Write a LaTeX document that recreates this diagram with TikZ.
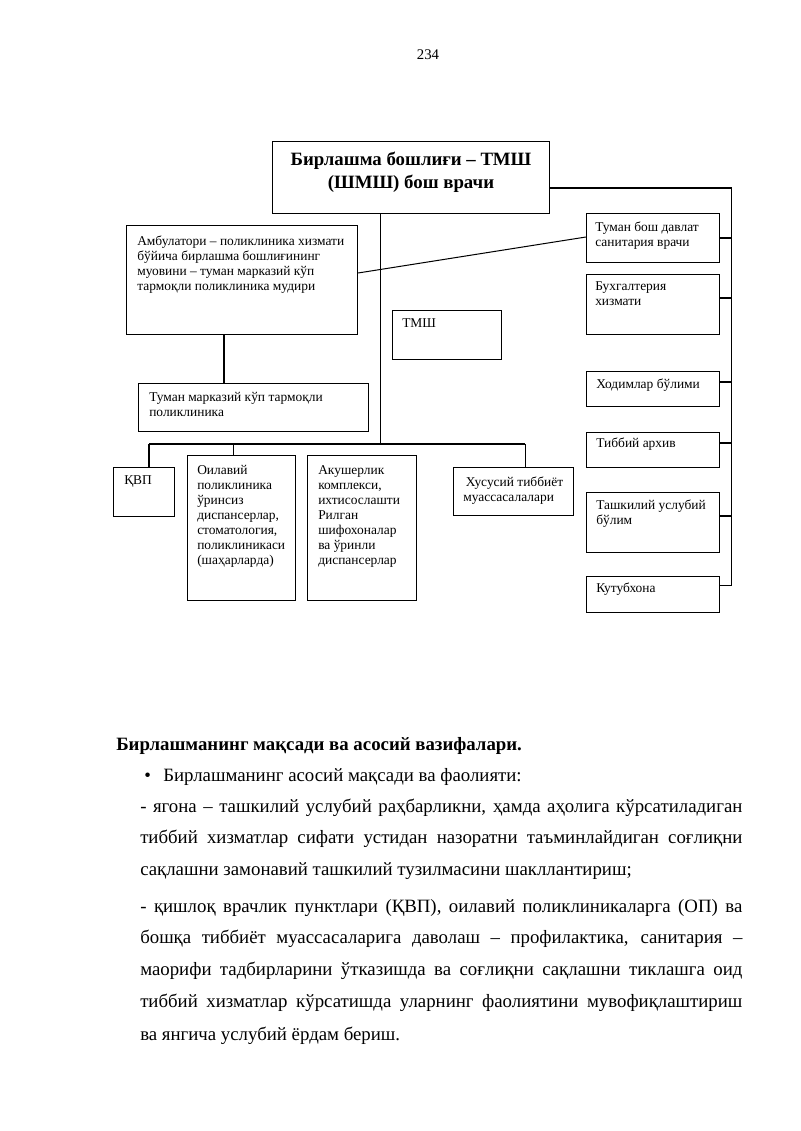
\documentclass[tikz,border=0pt]{standalone}
\usepackage{fontspec}
\setmainfont{Liberation Serif}
\tikzset{
  bx/.style={draw, line width=0.8pt, anchor=north west, inner sep=0pt, rectangle},
  bt/.style={anchor=north west, inner sep=0pt, align=left, font=\fontsize{10}{11.2}\selectfont},
  ln/.style={line width=0.75pt},
  body/.style={anchor=base west, inner sep=0pt, font=\fontsize{14}{16}\selectfont},
  bodyb/.style={anchor=base west, inner sep=0pt, font=\bfseries\fontsize{14}{16}\selectfont},
}
\newcommand\orgbox[8]{%
  \node[bx, minimum width={(#4-#2)*0.744pt}, minimum height={(#5-#3)*0.744pt}] (#1) at (#2,#3) {};
  \node[bt] (#1t) at (#6,#7-10.54) {\strut#8};
}
\newcommand\jline[1]{\makebox[448pt][s]{#1}}
\begin{document}
\begin{tikzpicture}[x=0.744pt, y=-0.744pt]
\path[use as bounding box, fill=white] (0,0) rectangle (800,1131);

% page number
\node[anchor=base, inner sep=0pt, font=\fontsize{11}{13}\selectfont] (pg) at (428,60) {234};

% top box
\node[bx, minimum width={(549-272)*0.744pt}, minimum height={(213-141)*0.744pt}] (top) at (272,141) {};
\node[inner sep=0pt, align=center, font=\bfseries\fontsize{14}{17}\selectfont] (topt) at (411,172) {Бирлашма бошлиғи – ТМШ\\(ШМШ) бош врачи};

% left / middle boxes
\orgbox{amb}{126}{225}{357}{334}{137}{245}{Амбулатори – поликлиника хизмати\\бўйича бирлашма бошлиғининг\\муовини – туман марказий кўп\\тармоқли поликлиника мудири}
\orgbox{tm}{138}{383}{368}{431}{149}{401}{Туман марказий кўп тармоқли\\поликлиника}
\orgbox{tmsh}{392}{310}{501}{359}{402}{327}{ТМШ}
\orgbox{kvp}{113}{467}{174}{516}{124}{484}{ҚВП}
\orgbox{oil}{187}{455}{295}{600}{197}{474}{Оилавий\\поликлиника\\ўринсиз\\диспансерлар,\\стоматология,\\поликлиникаси\\(шаҳарларда)}
\orgbox{aku}{307}{455}{416}{600}{318}{474}{Акушерлик\\комплекси,\\ихтисослашти\\Рилган\\шифохоналар\\ва ўринли\\диспансерлар}
\orgbox{xus}{453}{467}{573}{515}{463}{486}{\hspace{2pt}Хусусий тиббиёт\\муассасалалари}

% right boxes
\orgbox{tbd}{586}{213}{719}{262}{595}{231}{Туман бош давлат\\санитария врачи}
\orgbox{bux}{586}{274}{719}{334}{595}{290}{Бухгалтерия\\хизмати}
\orgbox{hod}{586}{371}{719}{406}{596}{388}{Ходимлар бўлими}
\orgbox{arx}{586}{432}{719}{467}{596}{447}{Тиббий архив}
\orgbox{tash}{586}{492}{719}{552}{596}{509}{Ташкилий услубий\\бўлим}
\orgbox{kut}{586}{576}{719}{612}{596}{592}{Кутубхона}

% connectors
\coordinate (busTop) at (731,188);
\coordinate (busBot) at (731,585);
\draw[ln] (top.east |- busTop) -- (busTop) -- (busBot) -- (kut.east |- busBot);
\draw[ln] (tbd.east |- 0,238) -- (busTop |- 0,238);
\draw[ln] (bux.east |- 0,298) -- (busTop |- 0,298);
\draw[ln] (hod.east |- 0,382) -- (busTop |- 0,382);
\draw[ln] (arx.east |- 0,443) -- (busTop |- 0,443);
\draw[ln] (tash.east |- 0,516) -- (busTop |- 0,516);

\draw[ln] (amb.east |- 0,273) -- (tbd.west |- 0,237);

\coordinate (aX) at (224,0);
\draw[ln] (amb.south -| aX) -- (tm.north -| aX);

\coordinate (vX) at (380,444);
\coordinate (hL) at (149,444);
\coordinate (hO) at (233,444);
\coordinate (hR) at (525,444);
\draw[ln] (top.south -| vX) -- (vX);
\draw[ln] (hL) -- (hR);
\draw[ln] (hL) -- (hL |- kvp.north);
\draw[ln] (hO) -- (hO |- oil.north);
\draw[ln] (hR) -- (hR |- xus.north);

% body text
\node[bodyb] (head) at (116,750) {Бирлашманинг мақсади ва асосий вазифалари.};
\node[body] (bul) at (144,781) {•};
\node[body] (bult) at (163,781) {Бирлашманинг асосий мақсади ва фаолияти:};
\node[body] (p1a) at (140,812) {\jline{- ягона – ташкилий услубий раҳбарликни, ҳамда аҳолига кўрсатиладиган}};
\node[body] (p1b) at (140,843) {\jline{тиббий хизматлар сифати устидан назоратни таъминлайдиган соғлиқни}};
\node[body] (p1c) at (140,875) {сақлашни замонавий ташкилий тузилмасини шакллантириш;};
\node[body] (p2a) at (140,912) {\jline{- қишлоқ врачлик пунктлари (ҚВП), оилавий поликлиникаларга (ОП) ва}};
\node[body] (p2b) at (140,943) {\jline{бошқа тиббиёт муассасаларига даволаш – профилактика, санитария –}};
\node[body] (p2c) at (140,975) {\jline{маорифи тадбирларини ўтказишда ва соғлиқни сақлашни тиклашга оид}};
\node[body] (p2d) at (140,1007) {\jline{тиббий хизматлар кўрсатишда уларнинг фаолиятини мувофиқлаштириш}};
\node[body] (p2e) at (140,1040) {ва янгича услубий ёрдам бериш.};
\end{tikzpicture}
\end{document}
